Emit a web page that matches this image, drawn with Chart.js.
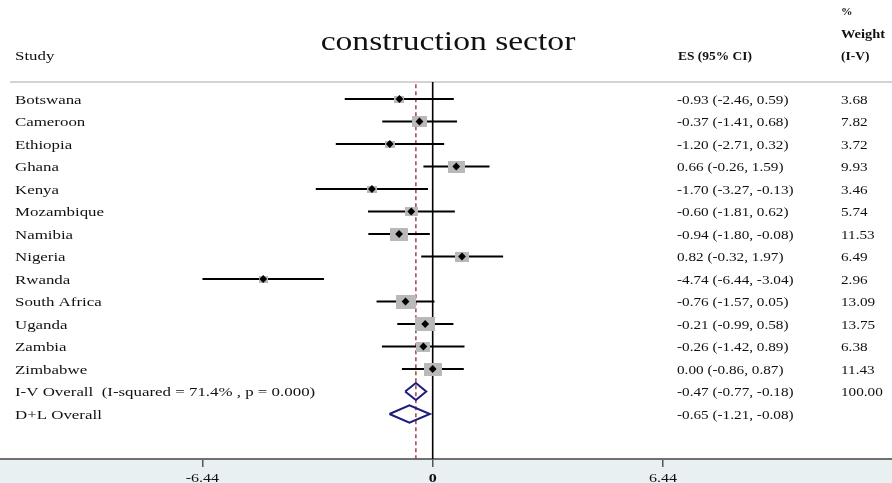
<!DOCTYPE html>
<html><head><meta charset="utf-8">
<script src="https://cdn.jsdelivr.net/npm/chart.js@4.4.1/dist/chart.umd.min.js"></script>
<style>html,body{margin:0;padding:0;background:#fff;}canvas{display:block;}</style>
</head><body>
<canvas id="c" width="892" height="483"></canvas>
<script>
// ---------------- data ----------------
const studies = ['Botswana','Cameroon','Ethiopia','Ghana','Kenya','Mozambique','Namibia','Nigeria','Rwanda','South Africa','Uganda','Zambia','Zimbabwe'];
const es      = [-0.93,-0.37,-1.20, 0.66,-1.70,-0.60,-0.94, 0.82,-4.74,-0.76,-0.21,-0.26, 0.00];
const lo      = [-2.46,-1.41,-2.71,-0.26,-3.27,-1.81,-1.80,-0.32,-6.44,-1.57,-0.99,-1.42,-0.86];
const hi      = [ 0.59, 0.68, 0.32, 1.59,-0.13, 0.62,-0.08, 1.97,-3.04, 0.05, 0.58, 0.89, 0.87];
const weights = [3.68,7.82,3.72,9.93,3.46,5.74,11.53,6.49,2.96,13.09,13.75,6.38,11.43];
const overallLabels  = ['I-V Overall  (I-squared = 71.4% , p = 0.000)','D+L Overall'];
const overallES      = [-0.47,-0.65];
const overallLo      = [-0.77,-1.21];
const overallHi      = [-0.18,-0.08];
const overallWeights = ['100.00',''];
const refValue   = -0.47;   // dashed line: I-V overall estimate
const tickValues = [-6.44, 0, 6.44];
const tickLabels = ['-6.44','0','6.44'];
const titleText  = 'construction sector';
const headers    = {study:'Study', es:'ES (95% CI)', pct:'%', weight:'Weight', iv:'(I-V)'};

// ---------------- layout ----------------
const XMIN = -12.103, XMAX = 12.848;
const YMIN = -4.4, YMAX = 16.0;
const HEADER_LINE_ROW = -0.756;
const DIAMOND_HALF = 0.38;
const SERIF = '"Liberation Serif", "Times New Roman", serif';
const boxColor = '#b9b9b9';

function boxCanvas(w){
  const c = document.createElement('canvas');
  c.width = Math.max(2, Math.round(5.4*Math.sqrt(w)));
  c.height = Math.max(2, Math.round(3.8*Math.sqrt(w)));
  const g = c.getContext('2d');
  g.fillStyle = boxColor; g.fillRect(0,0,c.width,c.height);
  return c;
}
const boxImgs = weights.map(boxCanvas);

const datasets = [];
// points (top)
datasets.push({type:'scatter', data: es.map((v,i)=>({x:v,y:i})), pointStyle:'rectRot', pointRadius:3.9,
  backgroundColor:'#000', borderWidth:0});
// boxes
datasets.push({type:'scatter', data: es.map((v,i)=>({x:v,y:i})), pointRadius:5,
  pointStyle: ctx => boxImgs[ctx.dataIndex], backgroundColor:boxColor, borderWidth:0});
// CI lines
studies.forEach((s,i)=>{
  datasets.push({type:'line', data:[{x:lo[i],y:i},{x:hi[i],y:i}], borderColor:'#000', borderWidth:1.9,
    pointRadius:0, fill:false, tension:0});
});
// overall diamonds
overallES.forEach((v,k)=>{
  const r = studies.length + k;
  datasets.push({type:'line', data:[{x:overallLo[k],y:r},{x:v,y:r-DIAMOND_HALF},{x:overallHi[k],y:r},{x:v,y:r+DIAMOND_HALF},{x:overallLo[k],y:r}],
    borderColor:'#1c1c7c', borderWidth:2, pointRadius:0, fill:false, tension:0, borderJoinStyle:'miter'});
});
// dashed reference line
datasets.push({type:'line', data:[{x:refValue,y:HEADER_LINE_ROW+0.1},{x:refValue,y:YMAX}], borderColor:'#a3404a',
  borderWidth:1.5, borderDash:[4,3], pointRadius:0, fill:false});
// zero line
datasets.push({type:'line', data:[{x:0,y:HEADER_LINE_ROW},{x:0,y:YMAX}], borderColor:'#000',
  borderWidth:1.6, pointRadius:0, fill:false});
// header rule
datasets.push({type:'line', data:[{x:XMIN+0.28,y:HEADER_LINE_ROW},{x:XMAX,y:HEADER_LINE_ROW}], borderColor:'#c4c4c4',
  borderWidth:1.5, pointRadius:0, fill:false});

function txt(ctx, s, x, y, font, sx, align){
  ctx.save();
  ctx.font = font; ctx.fillStyle = '#111'; ctx.textBaseline = 'alphabetic';
  ctx.textAlign = align || 'left';
  ctx.translate(x, y); ctx.scale(sx, 1);
  ctx.fillText(s, 0, 0);
  ctx.restore();
}

const forestText = {
  id:'forestText',
  beforeDraw(chart){
    const {ctx, chartArea} = chart;
    ctx.save();
    ctx.fillStyle = '#e8f0f2';
    ctx.fillRect(0, chartArea.bottom, chart.width, chart.height - chartArea.bottom);
    ctx.restore();
  },
  afterDraw(chart){
    const ctx = chart.ctx, ys = chart.scales.y, xs = chart.scales.x;
    txt(ctx, titleText, 448, 50, '28px '+SERIF, 1.2, 'center');
    txt(ctx, headers.study, 15, 60, '13.5px '+SERIF, 1.25);
    txt(ctx, headers.es, 678, 60, 'bold 12px '+SERIF, 1.12);
    txt(ctx, headers.pct, 841, 15, 'bold 10px '+SERIF, 1.15);
    txt(ctx, headers.weight, 841, 38, 'bold 12.5px '+SERIF, 1.15);
    txt(ctx, headers.iv, 841, 60, 'bold 12px '+SERIF, 1.12);
    const labFont = '13.5px '+SERIF, valFont = '13px '+SERIF;
    const allLabels = studies.concat(overallLabels);
    const allES = es.concat(overallES), allLo = lo.concat(overallLo), allHi = hi.concat(overallHi);
    const allW = weights.map(w=>w.toFixed(2)).concat(overallWeights);
    allLabels.forEach((lab,i)=>{
      const yb = ys.getPixelForValue(i) + 4.5;
      txt(ctx, lab, 15, yb, labFont, 1.25);
      txt(ctx, `${allES[i].toFixed(2)} (${allLo[i].toFixed(2)}, ${allHi[i].toFixed(2)})`, 677, yb, valFont, 1.17);
      if (allW[i]) txt(ctx, allW[i], 841, yb, valFont, 1.17);
    });
    // axis tick labels (stretched like the reference)
    tickValues.forEach((v,i)=>{
      const f = (v === 0 ? 'bold ' : '') + '12.5px ' + SERIF;
      txt(ctx, tickLabels[i], xs.getPixelForValue(v), 482, f, 1.28, 'center');
    });
  }
};

new Chart(document.getElementById('c'), {
  type:'scatter',
  data:{datasets},
  options:{
    responsive:false, animation:false, devicePixelRatio:1,
    layout:{padding:0, autoPadding:false},
    plugins:{legend:{display:false}, tooltip:{enabled:false}},
    scales:{
      x:{type:'linear', min:XMIN, max:XMAX, bounds:'data',
        afterFit: s => { s.height = 24; },
        afterBuildTicks: s => { s.ticks = tickValues.map(v=>({value:v})); },
        grid:{drawOnChartArea:false, drawTicks:true, tickLength:8, color:'#555', lineWidth:1.5},
        border:{display:true, color:'#707070', width:2},
        ticks:{autoSkip:false, maxRotation:0, padding:4, color:'rgba(0,0,0,0)',
          font:{family:'Liberation Serif', size:12.5},
          callback: (v,i) => tickLabels[i]}
      },
      y:{type:'linear', reverse:true, min:YMIN, max:YMAX, bounds:'data', display:false}
    }
  },
  plugins:[forestText]
});
</script>
</body></html>
